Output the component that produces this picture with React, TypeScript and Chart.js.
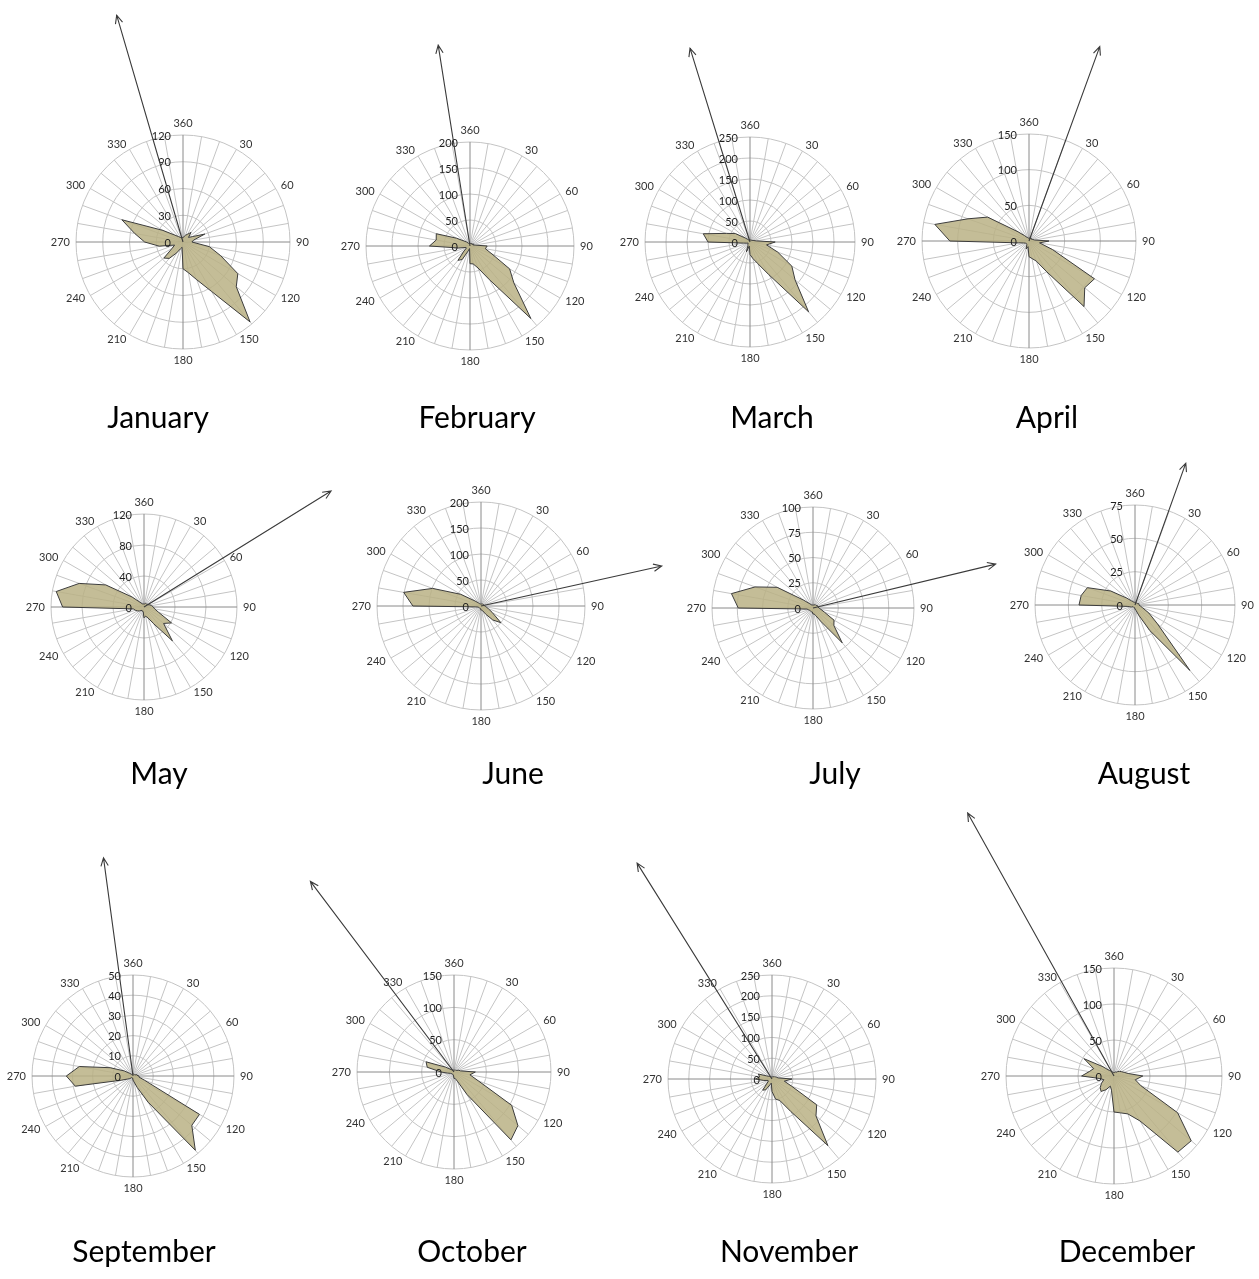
import React, { useEffect, useRef } from 'react';
import { Chart, registerables } from 'chart.js';

Chart.register(...registerables);

const PAGE_W = 1259;
const PAGE_H = 1279;

// ---------- data ----------
const DIRECTION_LABELS = [
  '360', '', '', '30', '', '', '60', '', '', '90', '', '', '120', '', '', '150', '', '',
  '180', '', '', '210', '', '', '240', '', '', '270', '', '', '300', '', '', '330', '', '',
];

const MONTHS = [
  'January', 'February', 'March', 'April', 'May', 'June',
  'July', 'August', 'September', 'October', 'November', 'December',
];

// values per direction 0,10,20,...,350 degrees
const JAN = [5, 6, 8, 10, 14, 8, 12, 26, 12, 10, 30, 45, 71, 78, 117, 64, 45, 35, 30, 6, 8, 14, 24, 28, 14, 10, 27, 43, 55, 73, 26, 12, 8, 6, 5, 5];
const FEB = [5, 5, 6, 5, 6, 5, 8, 6, 10, 33, 30, 45, 88, 110, 182, 75, 45, 35, 34, 5, 10, 30, 36, 15, 8, 8, 22, 78, 66, 69, 30, 15, 10, 6, 5, 5];
const MAR = [5, 5, 5, 6, 5, 5, 8, 10, 15, 60, 40, 70, 115, 140, 217, 90, 55, 40, 30, 10, 25, 10, 8, 6, 5, 8, 15, 100, 113, 60, 40, 15, 8, 5, 5, 5];
const APR = [4, 4, 5, 4, 5, 4, 5, 6, 8, 28, 15, 35, 106, 102, 120, 50, 30, 25, 22, 8, 12, 6, 5, 5, 6, 8, 15, 111, 134, 91, 67, 20, 10, 6, 5, 4];
const MAY = [4, 4, 5, 5, 5, 6, 6, 8, 10, 12, 14, 20, 41, 33, 57, 25, 15, 12, 14, 6, 6, 5, 6, 8, 10, 12, 14, 105, 115, 89, 57, 20, 8, 5, 4, 4];
const JUN = [4, 4, 4, 5, 5, 5, 5, 6, 6, 8, 10, 15, 25, 50, 35, 18, 10, 8, 8, 5, 5, 5, 5, 5, 5, 6, 10, 131, 151, 99, 45, 15, 8, 5, 4, 4];
const JUL = [3, 3, 3, 4, 4, 4, 5, 5, 5, 6, 8, 12, 24, 27, 45, 15, 8, 6, 6, 4, 4, 4, 4, 4, 4, 5, 6, 74, 82, 61, 41, 12, 6, 4, 3, 3];
const AUG = [2, 2, 2, 2, 2, 2, 2, 3, 3, 3, 4, 6, 12, 22, 64, 22, 8, 4, 3, 2, 2, 2, 2, 2, 3, 4, 6, 42, 41, 38, 21, 8, 4, 3, 2, 2];
const SEP = [1, 1, 1, 1, 1, 1, 1, 2, 2, 3, 3, 6, 38, 38, 48, 15, 6, 3, 2, 1, 1, 1, 1, 2, 3, 6, 29, 33, 27, 12, 5, 2, 1, 1, 1, 1];
const OCT = [3, 3, 3, 3, 4, 4, 5, 8, 10, 33, 25, 40, 103, 129, 137, 40, 15, 10, 10, 5, 5, 4, 4, 4, 5, 6, 10, 20, 42, 46, 15, 6, 4, 3, 3, 3];
const NOV = [5, 5, 6, 6, 8, 8, 10, 12, 15, 48, 30, 50, 124, 138, 209, 90, 55, 49, 30, 10, 15, 30, 35, 15, 10, 10, 20, 40, 30, 35, 15, 10, 8, 6, 5, 5];
const DEC = [5, 5, 6, 6, 8, 10, 12, 15, 20, 40, 30, 40, 102, 140, 138, 72, 56, 52, 50, 20, 15, 22, 28, 25, 20, 15, 20, 45, 35, 30, 48, 20, 10, 8, 6, 5];

const MONTH_VALUES = [JAN, FEB, MAR, APR, MAY, JUN, JUL, AUG, SEP, OCT, NOV, DEC];

const AXIS_MAX = [120, 200, 250, 150, 120, 200, 100, 75, 50, 150, 250, 150];
const AXIS_STEP = [30, 50, 50, 50, 40, 50, 25, 25, 10, 50, 50, 50];

// resultant vector: bearing (deg) and magnitude (axis units)
const ARROW_BEARING = [343.7, 351, 342.8, 20, 58.2, 77.5, 76.5, 19.7, 352.3, 323, 328, 330.9];
const ARROW_LENGTH = [265, 391, 483, 290, 284, 356, 186, 113, 109, 369, 612, 418];

// ---------- layout ----------
const PANEL_CX = [183, 470, 750, 1029, 144, 481, 813, 1135, 133, 454, 772, 1114];
const PANEL_CY = [242, 246, 242, 241, 607, 606, 608, 605, 1076, 1072, 1079, 1076];
const PANEL_R = [107, 104, 105, 107, 93, 104, 101, 100, 101, 97, 104, 108];
const TITLE_X = [158, 477, 772, 1047, 159, 513, 835, 1144, 144, 472, 789, 1127];
const TITLE_BASELINE = [428, 428, 428, 428, 784, 784, 784, 784, 1262, 1262, 1262, 1262];

const LABEL_FONT = '11px Lato';
const LABEL_COLOR = '#333333';
const TICK_COLOR = '#1e1e1e';
const GRID_COLOR = '#c4c4c4';
const AXIS_COLOR = '#8a8a8a';
const FILL_COLOR = 'rgba(186,177,133,0.85)';
const BORDER_COLOR = '#3c3c3c';
const ARROW_COLOR = '#3a3a3a';

const overlayPlugin = {
  id: 'roseOverlay',
  afterDatasetsDraw(chart: any, _args: any, opts: any) {
    const s = chart.scales.r;
    const ctx = chart.ctx;
    const cx = s.xCenter;
    const cy = s.yCenter;
    ctx.save();
    // point (direction) labels
    ctx.font = LABEL_FONT;
    ctx.fillStyle = LABEL_COLOR;
    const labels = chart.data.labels as string[];
    labels.forEach((lab, i) => {
      if (!lab) return;
      const p = s.getPointPosition(i, s.drawingArea + 6);
      const deg = (i * 360) / labels.length;
      const sn = Math.sin((deg * Math.PI) / 180);
      const cs = Math.cos((deg * Math.PI) / 180);
      ctx.textAlign = sn > 0.01 ? 'left' : sn < -0.01 ? 'right' : 'center';
      ctx.textBaseline = cs > 0.9 ? 'bottom' : cs < -0.9 ? 'top' : 'middle';
      ctx.fillText(lab, p.x, p.y);
    });
    // radial tick labels
    ctx.fillStyle = TICK_COLOR;
    ctx.textAlign = 'right';
    ctx.textBaseline = 'middle';
    s.ticks.forEach((t: any) => {
      const d = s.getDistanceFromCenterForValue(t.value);
      ctx.fillText(String(t.value), cx - 12, cy - d + 1);
    });
    // arrow
    const b = (opts.bearing * Math.PI) / 180;
    const d = s.getDistanceFromCenterForValue(opts.length);
    const tx = cx + Math.sin(b) * d;
    const ty = cy - Math.cos(b) * d;
    ctx.strokeStyle = ARROW_COLOR;
    ctx.lineWidth = 1.1;
    ctx.beginPath();
    ctx.moveTo(cx, cy);
    ctx.lineTo(tx, ty);
    const phi = Math.atan2(ty - cy, tx - cx);
    const L = 9;
    const a = 0.42;
    ctx.moveTo(tx - L * Math.cos(phi - a), ty - L * Math.sin(phi - a));
    ctx.lineTo(tx, ty);
    ctx.lineTo(tx - L * Math.cos(phi + a), ty - L * Math.sin(phi + a));
    ctx.stroke();
    ctx.restore();
  },
};

function Rose({ idx }: { idx: number }) {
  const ref = useRef<HTMLCanvasElement | null>(null);
  useEffect(() => {
    if (!ref.current) return;
    const cx = PANEL_CX[idx];
    const cy = PANEL_CY[idx];
    const r = PANEL_R[idx];
    const chart = new Chart(ref.current, {
      type: 'radar',
      data: {
        labels: DIRECTION_LABELS,
        datasets: [
          {
            data: MONTH_VALUES[idx],
            backgroundColor: FILL_COLOR,
            borderColor: BORDER_COLOR,
            borderWidth: 1,
            pointRadius: 0,
            pointHoverRadius: 0,
            fill: true,
            tension: 0,
          },
        ],
      },
      options: {
        responsive: false,
        animation: false,
        devicePixelRatio: 1,
        events: [],
        layout: {
          padding: {
            left: cx - r,
            top: cy - r,
            right: PAGE_W - (cx + r),
            bottom: PAGE_H - (cy + r),
          },
        },
        plugins: {
          legend: { display: false },
          tooltip: { enabled: false },
          roseOverlay: { bearing: ARROW_BEARING[idx], length: ARROW_LENGTH[idx] },
        } as any,
        scales: {
          r: {
            min: 0,
            max: AXIS_MAX[idx],
            ticks: { stepSize: AXIS_STEP[idx], display: false },
            pointLabels: { display: false },
            grid: { circular: true, color: GRID_COLOR, lineWidth: 1 },
            angleLines: {
              display: true,
              lineWidth: 1,
              color: (c: any) => (c.index % 9 === 0 ? AXIS_COLOR : GRID_COLOR),
            },
          },
        },
      },
      plugins: [overlayPlugin],
    } as any);
    return () => chart.destroy();
  }, [idx]);
  return (
    <canvas
      ref={ref}
      width={PAGE_W}
      height={PAGE_H}
      style={{ position: 'absolute', left: 0, top: 0, width: PAGE_W, height: PAGE_H }}
    />
  );
}

export default function App() {
  return (
    <div
      style={{
        position: 'absolute',
        left: 0,
        top: 0,
        width: PAGE_W,
        height: PAGE_H,
        background: '#ffffff',
        overflow: 'hidden',
      }}
    >
      {MONTHS.map((m, i) => (
        <Rose key={m} idx={i} />
      ))}
      {MONTHS.map((m, i) => (
        <div
          key={'t' + m}
          style={{
            position: 'absolute',
            left: TITLE_X[i] - 120,
            width: 240,
            top: TITLE_BASELINE[i] - 30,
            height: 36,
            lineHeight: '36px',
            textAlign: 'center',
            fontFamily: 'Lato, "Open Sans", sans-serif',
            fontSize: 30,
            color: '#000',
            whiteSpace: 'nowrap',
          }}
        >
          {m}
        </div>
      ))}
    </div>
  );
}
